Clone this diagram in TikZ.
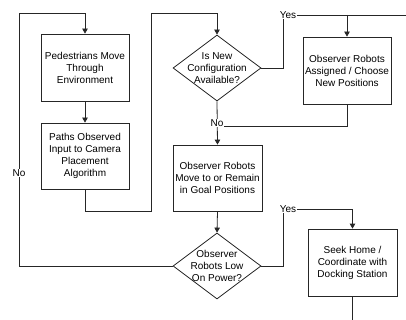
\documentclass[tikz,border=0pt]{standalone}
\usepackage{fontspec}
\setmainfont{Liberation Sans}
\usetikzlibrary{shapes.geometric,arrows.meta}

\begin{document}
\begin{tikzpicture}[x=1pt,y=1pt,
    font=\fontsize{10}{12}\selectfont,
    line/.style={draw=black!85, line width=0.8pt},
    flow/.style={line, -{Triangle[length=5pt,width=5.5pt]}},
    stepbox/.style={line, rectangle, minimum width=88pt, minimum height=67pt, inner sep=0pt, align=center},
    decision/.style={line, diamond, minimum width=88pt, minimum height=66pt, inner sep=0pt},
    tag/.style={fill=white, inner sep=0.5pt}]
    \useasboundingbox (0,0) rectangle (406,-320);
    \node[stepbox] (walk) at (85,-67.5) {Pedestrians Move\\Through\\Environment};
    \node[stepbox, minimum height=66pt] (place) at (85,-156) {Paths Observed\\Input to Camera\\Placement\\Algorithm};
    \node[decision, label={[align=center]center:Is New\\Configuration\\Available?}] (newcfg) at (217,-68) {};
    \node[stepbox] (assign) at (347,-70.5) {Observer Robots\\Assigned / Choose\\New Positions};
    \node[stepbox, minimum width=89pt, minimum height=66pt] (move) at (217.5,-178) {Observer Robots\\Move to or Remain\\in Goal Positions};
    \node[decision, label={[align=center]center:Observer\\Robots Low\\On Power?}] (power) at (217,-266) {};
    \node[stepbox, minimum width=89pt] (home) at (352.5,-262.5) {Seek Home /\\Coordinate with\\Docking Station};
    \coordinate (loopA) at (19,-13);
    \coordinate (bendA) at (151,-211);
    \coordinate (bendB) at (151,-13);
    \coordinate (yesA) at (283,-15);
    \coordinate (edgeR) at (406,-15);
    \coordinate (merge) at (217,-126);
    \coordinate (yesB) at (283,-209);
    \coordinate (edgeB) at (352.5,-320);
    \draw[flow] (power.west) -| (loopA) -| (walk.north);
    \draw[flow] (walk.south) -- (place.north);
    \draw[flow] (place.south) |- (bendA) -- (bendB) -| (newcfg.north);
    \draw[line] (newcfg.east) -| (yesA) -- (edgeR);
    \draw[flow] (assign.north |- yesA) -- (assign.north);
    \draw[line] (assign.south) |- (merge);
    \draw[flow] (newcfg.south) -- (move.north);
    \draw[flow] (move.south) -- (power.north);
    \draw[flow] (power.east) -| (yesB) -| (home.north);
    \draw[line] (home.south) -- (edgeB);
    \node[tag] (yes1) at (288,-15) {Yes};
    \node[tag] (yes2) at (288,-209) {Yes};
    \node[tag] (no1) at (217,-123) {No};
    \node[tag] (no2) at (19,-173) {No};
\end{tikzpicture}
\end{document}
